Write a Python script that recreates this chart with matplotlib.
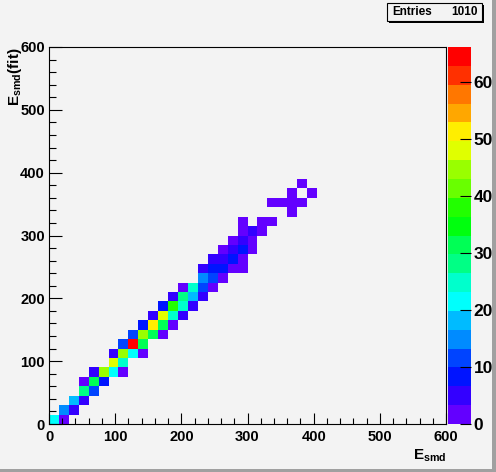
import colorsys
import numpy as np
import matplotlib
matplotlib.use('Agg')
import matplotlib.pyplot as plt
from matplotlib.colors import ListedColormap, BoundaryNorm
from matplotlib.patches import Rectangle
from matplotlib.ticker import MultipleLocator

plt.rcParams['font.family'] = ['Liberation Sans', 'DejaVu Sans']
plt.rcParams['font.weight'] = 'bold'
plt.rcParams['mathtext.fontset'] = 'custom'
plt.rcParams['mathtext.bf'] = 'Liberation Sans:bold'
plt.rcParams['mathtext.rm'] = 'Liberation Sans:bold'
plt.rcParams['mathtext.it'] = 'Liberation Sans:bold'
plt.rcParams['mathtext.default'] = 'bf'

# ---------------- data (bin centres and contents) ----------------
e_smd = [7.5, 22.5,
         22.5, 37.5,
         37.5, 52.5,
         52.5, 67.5,
         52.5, 67.5, 82.5,
         67.5, 82.5, 97.5, 112.5,
         97.5, 112.5,
         97.5, 112.5, 127.5, 142.5,
         112.5, 127.5, 142.5,
         127.5, 142.5, 157.5, 172.5,
         142.5, 157.5, 172.5, 187.5,
         157.5, 172.5, 187.5, 202.5,
         172.5, 187.5, 202.5, 217.5,
         187.5, 202.5, 217.5, 232.5,
         202.5, 217.5, 232.5, 247.5,
         232.5, 247.5, 262.5,
         232.5, 247.5, 262.5, 277.5, 292.5,
         247.5, 262.5, 277.5, 292.5,
         262.5, 277.5, 292.5, 307.5,
         277.5, 292.5, 307.5,
         292.5, 307.5, 322.5,
         292.5, 322.5, 337.5,
         367.5,
         337.5, 352.5, 367.5, 382.5,
         367.5, 397.5,
         382.5]

e_fit = [7.5, 7.5,
         22.5, 22.5,
         37.5, 37.5,
         52.5, 52.5,
         67.5, 67.5, 67.5,
         82.5, 82.5, 82.5, 82.5,
         97.5, 97.5,
         112.5, 112.5, 112.5, 112.5,
         127.5, 127.5, 127.5,
         142.5, 142.5, 142.5, 142.5,
         157.5, 157.5, 157.5, 157.5,
         172.5, 172.5, 172.5, 172.5,
         187.5, 187.5, 187.5, 187.5,
         202.5, 202.5, 202.5, 202.5,
         217.5, 217.5, 217.5, 217.5,
         232.5, 232.5, 232.5,
         247.5, 247.5, 247.5, 247.5, 247.5,
         262.5, 262.5, 262.5, 262.5,
         277.5, 277.5, 277.5, 277.5,
         292.5, 292.5, 292.5,
         307.5, 307.5, 307.5,
         322.5, 322.5, 322.5,
         337.5,
         352.5, 352.5, 352.5, 352.5,
         367.5, 367.5,
         382.5]

counts = [21, 2,
          15, 5,
          18, 5,
          28, 11,
          1, 31, 8,
          5, 44, 21, 1,
          48, 25,
          5, 44, 21, 1,
          11, 63, 31,
          11, 44, 31, 1,
          8, 51, 31, 1,
          5, 48, 25, 5,
          8, 37, 25, 5,
          5, 29, 18, 5,
          1, 25, 11, 1,
          15, 11, 1,
          5, 8, 8, 1, 1,
          5, 5, 8, 1,
          2, 5, 8, 2,
          2, 5, 2,
          2, 4, 2,
          1, 1, 1,
          1,
          1, 1, 1, 1,
          1, 1,
          1]

n_entries = 1010
z_max = 66.15
n_levels = 20
cbar_ticks = [0, 10, 20, 30, 40, 50, 60]

# ---------------- style ----------------
W, H = 496, 472
bg = '#f3f3f3'

# ROOT "pretty palette" (violet -> red), sampled for 20 contour levels
pretty = [colorsys.hls_to_rgb((280 - (i + 1) * 5.6) / 360.0, 0.5, 1.0) for i in range(50)]
level_colors = [pretty[int((k + 0.99) * 50 / n_levels)] for k in range(n_levels)]
cmap = ListedColormap(level_colors)
norm = BoundaryNorm(np.linspace(0, z_max, n_levels + 1), n_levels)

fig = plt.figure(figsize=(W / 100, H / 100), dpi=100, facecolor=bg)

def fx(px):
    return px / W

def fy(py):
    return 1 - py / H

ax = fig.add_axes([fx(49), fy(424), (446 - 49) / W, (424 - 47) / H])
ax.set_facecolor(bg)

edges = np.linspace(0, 600, 41)
Hh, xe, ye = np.histogram2d(e_smd, e_fit, bins=[edges, edges], weights=counts)
Hm = np.ma.masked_equal(Hh.T, 0)
mesh = ax.pcolormesh(xe, ye, Hm, cmap=cmap, norm=norm, shading='flat')

ax.set_xlim(0, 600)
ax.set_ylim(0, 600)
for s in ax.spines.values():
    s.set_linewidth(0.8)
ax.xaxis.set_major_locator(MultipleLocator(100))
ax.xaxis.set_minor_locator(MultipleLocator(20))
ax.yaxis.set_major_locator(MultipleLocator(100))
ax.yaxis.set_minor_locator(MultipleLocator(20))
ax.tick_params(axis='x', which='major', direction='in', length=7.7, width=0.8,
               labelsize=10.5, pad=4.5)
ax.tick_params(axis='x', which='minor', direction='in', length=4, width=0.8)
ax.tick_params(axis='y', which='major', direction='in', length=9, width=0.8,
               labelsize=10.5, pad=3)
ax.tick_params(axis='y', which='minor', direction='in', length=4.7, width=0.8)
for lab in ax.get_xticklabels() + ax.get_yticklabels():
    lab.set_fontweight('bold')

# colour bar
cax = fig.add_axes([fx(448), fy(424), (471 - 448) / W, (424 - 47) / H])
cb = fig.colorbar(mesh, cax=cax, ticks=cbar_ticks)
cb.outline.set_visible(False)
cb.minorticks_off()
cax.yaxis.set_ticks_position('right')
cax.tick_params(direction='in', length=8, width=0.8, labelsize=12.5, pad=2)
for lab in cax.get_yticklabels():
    lab.set_fontweight('bold')

# axis titles
fig.text(fx(446), fy(448), r'$\mathbf{E}_{\mathbf{smd}}$', ha='right', va='top', fontsize=11)
fig.text(fx(6), fy(47), r'$\mathbf{E}_{\mathbf{smd}}\mathbf{(fit)}$', ha='left', va='top',
         rotation=90, fontsize=11)

# stats box with shadow
fig.patches.append(Rectangle((fx(389), fy(22.7)), (482 - 387) / W, (20.7 - 3) / H,
                             transform=fig.transFigure, facecolor='black', edgecolor='none'))
fig.patches.append(Rectangle((fx(387), fy(20.7)), (482 - 387) / W, (20.7 - 3) / H,
                             transform=fig.transFigure, facecolor=bg, edgecolor='black',
                             linewidth=0.8))
fig.text(fx(392), fy(12), 'Entries', ha='left', va='center', fontsize=8.5, fontweight='bold')
fig.text(fx(478), fy(12), f'{n_entries}', ha='right', va='center', fontsize=8.5,
         fontweight='bold')

# canvas border (dark right / bottom edge)
fig.patches.append(Rectangle((fx(491.5), 0), 4.5 / W, 1, transform=fig.transFigure,
                             facecolor='#a0a0a0', edgecolor='none'))
fig.patches.append(Rectangle((0, 0), 1, 3.5 / H, transform=fig.transFigure,
                             facecolor='#a0a0a0', edgecolor='none'))

fig.savefig('out.png', dpi=100, facecolor=bg)
